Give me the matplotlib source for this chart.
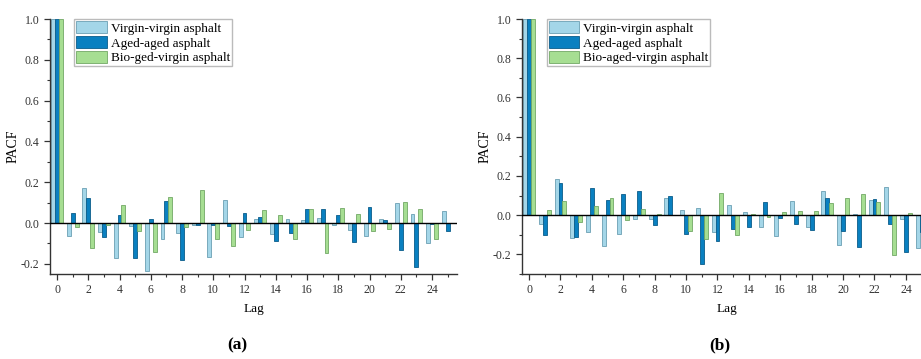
import matplotlib

matplotlib.use('Agg')

import matplotlib.pyplot as plt
from matplotlib.ticker import MultipleLocator, FormatStrFormatter
import numpy as np

plt.rcParams['font.family'] = ['Liberation Serif', 'DejaVu Serif']

lags = list(range(26))
labels = ['Virgin-virgin asphalt', 'Aged-aged asphalt']
labels_a = labels + ['Bio-ged-virgin asphalt']
labels_b = labels + ['Bio-aged-virgin asphalt']

# PACF values, panel (a)
virgin_a = [1.0, -0.066, 0.17, -0.046, -0.172, -0.013, -0.233, -0.077, -0.049, -0.01,
            -0.169, 0.113, -0.069, 0.02, -0.054, 0.021, 0.015, 0.023, -0.01, -0.036,
            -0.066, 0.02, 0.098, 0.046, -0.098, 0.057]
aged_a = [1.0, 0.049, 0.125, -0.067, 0.038, -0.172, 0.02, 0.108, -0.182, -0.01,
          -0.01, -0.016, 0.049, 0.028, -0.089, -0.049, 0.067, 0.067, 0.038, -0.095,
          0.079, 0.015, -0.133, -0.218, -0.003, -0.038]
bio_a = [1.0, -0.02, -0.123, -0.01, 0.089, -0.039, -0.143, 0.128, -0.018, 0.161,
         -0.079, -0.111, -0.033, 0.062, 0.038, -0.079, 0.069, -0.148, 0.075, 0.044,
         -0.039, -0.03, 0.105, 0.067, -0.079, 0.0]

# PACF values, panel (b)
virgin_b = [1.0, -0.047, 0.186, -0.117, -0.087, -0.157, -0.097, -0.022, -0.018, 0.086,
            0.025, 0.036, -0.088, 0.051, 0.015, -0.058, -0.105, 0.07, -0.059, 0.122,
            -0.151, 0.005, 0.077, 0.141, -0.018, -0.168]
aged_b = [1.0, -0.10, 0.164, -0.11, 0.136, 0.076, 0.11, 0.125, -0.05, 0.098,
          -0.098, -0.25, -0.134, -0.071, -0.061, 0.068, -0.012, -0.047, -0.075, 0.088,
          -0.08, -0.16, 0.082, -0.047, -0.188, -0.085]
bio_b = [1.0, 0.024, 0.071, -0.037, 0.047, 0.09, -0.023, 0.03, 0.008, 0.0,
         -0.083, -0.12, 0.115, -0.103, 0.008, -0.01, 0.014, 0.022, 0.022, 0.063,
         0.09, 0.107, 0.066, -0.205, 0.012, -0.02]

colors = ['#a4d6e8', '#0a80c0', '#a6de92']
edges = ['#6b9fb3', '#0b5c8a', '#72a865']
W, H = 921, 359


def draw_panel(ax, series, names, ylow):
    x = np.array(lags)
    for k, (vals, name) in enumerate(zip(series, names)):
        ax.bar(x + (k - 1) * 0.25, vals, width=0.25, color=colors[k],
               edgecolor=edges[k], linewidth=0.6, label=name, zorder=2)
    ax.axhline(0, color='black', linewidth=1.0, zorder=3)

    ax.set_xlim(-0.45, 25.6)
    ax.set_ylim(ylow, 1.0)
    ax.xaxis.set_major_locator(MultipleLocator(2))
    ax.xaxis.set_minor_locator(MultipleLocator(1))
    ax.yaxis.set_major_locator(MultipleLocator(0.2))
    ax.yaxis.set_minor_locator(MultipleLocator(0.1))
    ax.yaxis.set_major_formatter(FormatStrFormatter('%.1f'))
    ax.tick_params(which='major', direction='out', length=4, width=0.9,
                   labelsize=8.5, colors='#333333')
    ax.tick_params(which='minor', direction='out', length=2.5, width=0.8,
                   colors='#333333')
    for side in ['top', 'right']:
        ax.spines[side].set_visible(False)
    for side in ['left', 'bottom']:
        ax.spines[side].set_linewidth(1.0)
        ax.spines[side].set_color('#333333')

    ax.set_xlabel('Lag', fontsize=9.5, labelpad=5)
    ax.set_ylabel('PACF', fontsize=10, labelpad=1)

    leg = ax.legend(loc='upper left', bbox_to_anchor=(0.06, 1.0), fontsize=9.5,
                    handlelength=2.3, handleheight=1.05, handletextpad=0.3,
                    labelspacing=0.1, borderpad=0.15, borderaxespad=0.0,
                    fancybox=False, framealpha=1.0, edgecolor='#bbbbbb')
    leg.get_frame().set_linewidth(1.0)


fig = plt.figure(figsize=(W / 100, H / 100), dpi=100)

ax_a = fig.add_axes([50 / W, 85 / H, 407 / W, 255 / H])
draw_panel(ax_a, [virgin_a, aged_a, bio_a], labels_a, -0.25)

ax_b = fig.add_axes([522 / W, 85 / H, 409 / W, 255 / H])
draw_panel(ax_b, [virgin_b, aged_b, bio_b], labels_b, -0.3)

fig.text(237 / W, 1 - 345 / H, '(a)', fontsize=12.5, fontweight='bold',
         ha='center', va='center')
fig.text(720 / W, 1 - 345 / H, '(b)', fontsize=12.5, fontweight='bold',
         ha='center', va='center')

plt.savefig('out.png', dpi=100)
plt.close()
